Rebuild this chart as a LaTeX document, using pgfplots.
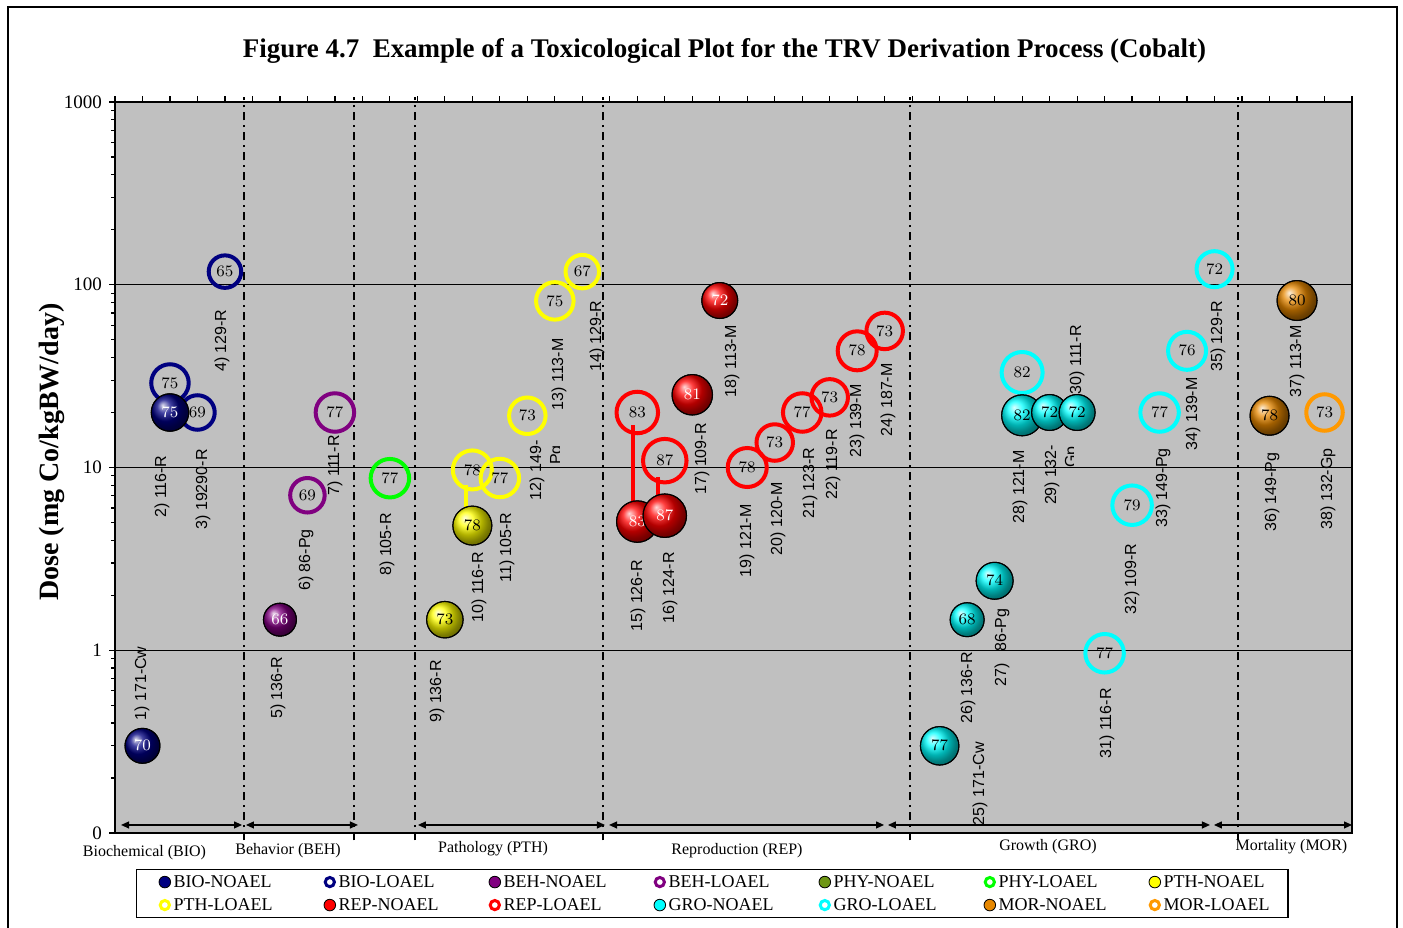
\documentclass[border=0pt]{standalone}
\usepackage{fontspec}
\setmainfont{Liberation Serif}
\newfontfamily\arial{Liberation Sans}
\usepackage{graphicx}
\usepackage{pgfplots}
\usepackage{pgfplotstable}
\pgfplotsset{compat=1.18}
\usetikzlibrary{arrows.meta}

\definecolor{cnavy}{RGB}{0,0,128}
\definecolor{cpurple}{RGB}{128,0,128}
\definecolor{colive}{RGB}{110,150,20}
\definecolor{cgreen}{RGB}{0,255,0}
\definecolor{cyellow}{RGB}{255,255,0}
\definecolor{cred}{RGB}{255,0,0}
\definecolor{ccyan}{RGB}{0,255,255}
\definecolor{corangeN}{RGB}{230,135,0}
\definecolor{corangeL}{RGB}{255,153,0}
\definecolor{plotgray}{RGB}{192,192,192}

\newcommand\numfont{\fontsize{7.8}{8}\selectfont}

\pgfplotstableread{
x y s
1 0.30 70
2 20 75
}\bioN
\pgfplotstableread{
x y s
2 29 75
3 20 69
4 118 65
}\bioL
\pgfplotstableread{
x y s
6 1.47 66
}\behN
\pgfplotstableread{
x y s
7 7.05 69
8 20 77
}\behL
\pgfplotstableread{
x y s
10 8.74 77
}\phyL
\pgfplotstableread{
x y s
12 1.47 73
13 4.81 78
}\pthN
\pgfplotstableread{
x y s
13 9.7 78
14 8.76 77
15 19.2 73
16 81.6 75
17 118 67
}\pthL
\pgfplotstableread{
x y s
19 5.06 83
20 5.45 87
21 25 81
22 82 72
}\repN
\pgfplotstableread{
x y s
19 20 83
20 10.9 87
23 10 78
24 13.7 73
25 20 77
26 24.2 73
27 43.5 78
28 55.9 73
}\repL
\pgfplotstableread{
x y s
30 0.30 77
31 1.47 68
32 2.40 74
33 19.3 82
34 20 72
35 20 72
}\groN
\pgfplotstableread{
x y s
33 33.1 82
36 0.963 77
37 6.22 79
38 20 77
39 43.5 76
40 121.7 72
}\groL
\pgfplotstableread{
x y s
42 19.2 78
43 82 80
}\morN
\pgfplotstableread{
x y s
44 20 73
}\morL

\tikzset{
  lbl/.style={rotate=90, anchor=east, inner sep=0pt, font=\arial\fontsize{8}{9.6}\selectfont},
  vline/.style={black, line width=0.9pt, dash pattern=on 4pt off 2.5pt on 1pt off 2.5pt},
  catarrow/.style={black, line width=0.6pt, >={Triangle[length=4pt,width=3.5pt]}, <->},
  catlab/.style={font=\fontsize{8}{9.6}\selectfont, inner sep=0pt},
}

\pgfplotsset{
  noael/.style 2 args={only marks, scatter, mark=o,
    mark options={draw=black, line width=0.5pt, fill=none},
    visualization depends on={\thisrow{s} \as \scoreval},
    scatter/@pre marker code/.code={%
      \pgfmathsetmacro\markrad{\scoreval/8}%
      \shade[ball color=#1] (0pt,0pt) circle[radius=\markrad pt];%
      \scope[mark size=\markrad pt]},
    scatter/@post marker code/.code={%
      \endscope
      \node[inner sep=0pt, draw=none, text=#2, font=\numfont] at (0pt,0pt) {\pgfmathprintnumber[fixed,precision=0]{\scoreval}};},
  },
  loael/.style={only marks, scatter, mark=o,
    mark options={draw=#1, line width=2pt, fill=none},
    visualization depends on={\thisrow{s} \as \scoreval},
    scatter/@pre marker code/.code={%
      \pgfmathsetmacro\markrad{\scoreval/8}%
      \scope[mark size=\markrad pt]},
    scatter/@post marker code/.code={%
      \endscope
      \node[inner sep=0pt, draw=none, text=black, font=\numfont] at (0pt,0pt) {\pgfmathprintnumber[fixed,precision=0]{\scoreval}};},
  },
  legN/.style={legend image code/.code={\draw[fill=#1, draw=black, line width=0.4pt] (3pt,0pt) circle[radius=2.9pt];}},
  legL/.style={legend image code/.code={\draw[fill=white, draw=#1, line width=1.5pt] (3pt,0pt) circle[radius=2.3pt];}},
}

\begin{document}
\begin{tikzpicture}
\begin{axis}[
  at={(57.5pt,-416.5pt)}, anchor=south west,
  scale only axis, width=618.5pt, height=365.5pt,
  xmin=0, xmax=45, ymin=0.1, ymax=1000, ymode=log,
  clip=false,
  axis background/.style={fill=plotgray},
  axis line style={line width=0.9pt},
  xtick={0,1,...,45}, xticklabels={}, xtick pos=right,
  ytick={0.1,1,10,100,1000},
  yticklabels={\textrm{0},\textrm{1},\textrm{10},\textrm{100},\textrm{1000}},
  minor ytick={0.2,0.3,0.4,0.5,0.6,0.7,0.8,0.9,2,3,4,5,6,7,8,9,20,30,40,50,60,70,80,90,200,300,400,500,600,700,800,900},
  ytick pos=left,
  tick align=outside,
  major tick length=3pt, minor tick length=2pt,
  tick style={black, line width=0.6pt},
  ymajorgrids, major grid style={black, line width=0.7pt},
  yticklabel style={font=\fontsize{9.5}{10}\selectfont},
  legend columns=7,
  legend cell align=left,
  legend style={at={(0.017,-0.0492)}, anchor=north west, draw=black, line width=0.6pt,
    font=\fontsize{9}{10}\selectfont, inner xsep=11pt, inner ysep=0.5pt,
    nodes={inner sep=1.25pt, text height=7pt, text depth=2pt},
    /tikz/every even column/.append style={column sep=23.8pt}},
  legend entries={\makebox[50pt][l]{BIO-NOAEL},\makebox[50pt][l]{BIO-LOAEL},\makebox[50pt][l]{BEH-NOAEL},\makebox[50pt][l]{BEH-LOAEL},\makebox[50pt][l]{PHY-NOAEL},\makebox[50pt][l]{PHY-LOAEL},\makebox[50pt][l]{PTH-NOAEL},\makebox[50pt][l]{PTH-LOAEL},\makebox[50pt][l]{REP-NOAEL},\makebox[50pt][l]{REP-LOAEL},\makebox[50pt][l]{GRO-NOAEL},\makebox[50pt][l]{GRO-LOAEL},\makebox[50pt][l]{MOR-NOAEL},\makebox[50pt][l]{MOR-LOAEL}},
]
\addlegendimage{legN=cnavy}
\addlegendimage{legL=cnavy}
\addlegendimage{legN=cpurple}
\addlegendimage{legL=cpurple}
\addlegendimage{legN=colive}
\addlegendimage{legL=cgreen}
\addlegendimage{legN=cyellow}
\addlegendimage{legL=cyellow}
\addlegendimage{legN=cred}
\addlegendimage{legL=cred}
\addlegendimage{legN=ccyan}
\addlegendimage{legL=ccyan}
\addlegendimage{legN=corangeN}
\addlegendimage{legL=corangeL}

% category separators
\draw[vline] (rel axis cs:0.1043,-0.01) -- (rel axis cs:0.1043,1.007);
\draw[vline] (rel axis cs:0.1932,-0.01) -- (rel axis cs:0.1932,1.007);
\draw[vline] (rel axis cs:0.2425,-0.01) -- (rel axis cs:0.2425,1.007);
\draw[vline] (rel axis cs:0.3948,-0.01) -- (rel axis cs:0.3948,1.007);
\draw[vline] (rel axis cs:0.6427,-0.01) -- (rel axis cs:0.6427,1.007);
\draw[vline] (rel axis cs:0.9076,-0.01) -- (rel axis cs:0.9076,1.007);

% category arrows
\draw[catarrow] (rel axis cs:0.0049,0.011) -- (rel axis cs:0.1027,0.011);
\draw[catarrow] (rel axis cs:0.1059,0.011) -- (rel axis cs:0.1964,0.011);
\draw[catarrow] (rel axis cs:0.2449,0.011) -- (rel axis cs:0.3961,0.011);
\draw[catarrow] (rel axis cs:0.3994,0.011) -- (rel axis cs:0.6217,0.011);
\draw[catarrow] (rel axis cs:0.6249,0.011) -- (rel axis cs:0.8852,0.011);
\draw[catarrow] (rel axis cs:0.8884,0.011) -- (rel axis cs:1.0,0.011);

% study labels
\node[lbl] at (rel axis cs:0.0218,0.2558) {1) 171-Cw};
\node[lbl] at (rel axis cs:0.0380,0.5157) {2) 116-R};
\node[lbl] at (rel axis cs:0.0711,0.5253) {3) 19290-R};
\node[lbl] at (rel axis cs:0.0865,0.7168) {4) 129-R};
\node[lbl] at (rel axis cs:0.1318,0.2421) {5) 136-R};
\node[lbl] at (rel axis cs:0.1544,0.4159) {6) 86-Pg};
\node[lbl] at (rel axis cs:0.1779,0.5445) {7) 111-R};
\node[lbl] at (rel axis cs:0.2199,0.4378) {8) 105-R};
\node[lbl] at (rel axis cs:0.2603,0.2367) {9) 136-R};
\node[lbl] at (rel axis cs:0.2943,0.3844) {10) 116-R};
\node[lbl] at (rel axis cs:0.3169,0.4391) {11) 105-R};
\node[lbl] at (rel axis cs:0.3411,0.5376) {12) 149-};
\node[lbl] at (rel axis cs:0.3589,0.6771) {13) 113-M};
\node[lbl] at (rel axis cs:0.3897,0.7291) {14) 129-R};
\node[lbl] at (rel axis cs:0.4228,0.3735) {15) 126-R};
\node[lbl] at (rel axis cs:0.4487,0.3844) {16) 124-R};
\node[lbl] at (rel axis cs:0.4745,0.5609) {17) 109-R};
\node[lbl] at (rel axis cs:0.4988,0.6949) {18) 113-M};
\node[lbl] at (rel axis cs:0.5109,0.4501) {19) 121-M};
\node[lbl] at (rel axis cs:0.5360,0.4802) {20) 120-M};
\node[lbl] at (rel axis cs:0.5618,0.5280) {21) 123-R};
\node[lbl] at (rel axis cs:0.5804,0.5527) {22) 119-R};
\node[lbl] at (rel axis cs:0.5998,0.6142) {23) 139-M};
\node[lbl] at (rel axis cs:0.6249,0.6430) {24) 187-M};
\node[lbl] at (rel axis cs:0.6993,0.1245) {25) 171-Cw};
\node[lbl] at (rel axis cs:0.6896,0.2476) {26) 136-R};
\node[lbl] at (rel axis cs:0.7171,0.3078) {27)\hspace{6pt}86-Pg};
\node[lbl] at (rel axis cs:0.7316,0.5239) {28) 121-M};
\node[lbl] at (rel axis cs:0.7575,0.5308) {29) 132-};
\node[lbl] at (rel axis cs:0.7777,0.6949) {30) 111-R};
\node[lbl] at (rel axis cs:0.8019,0.1984) {31) 116-R};
\node[lbl] at (rel axis cs:0.8222,0.3967) {32) 109-R};
\node[lbl] at (rel axis cs:0.8472,0.5267) {33) 149-Pg};
\node[lbl] at (rel axis cs:0.8715,0.6238) {34) 139-M};
\node[lbl] at (rel axis cs:0.8917,0.7291) {35) 129-R};
\node[lbl] at (rel axis cs:0.9353,0.5212) {36) 149-Pg};
\node[lbl] at (rel axis cs:0.9555,0.6949) {37) 113-M};
\node[lbl] at (rel axis cs:0.9806,0.5267) {38) 132-Gp};

% LOAEL rings
\addplot[loael=cnavy, forget plot] table[x=x,y=y] {\bioL};
\addplot[loael=cpurple, forget plot] table[x=x,y=y] {\behL};
\addplot[loael=cgreen, forget plot] table[x=x,y=y] {\phyL};
\addplot[loael=cyellow, forget plot] table[x=x,y=y] {\pthL};
\addplot[loael=cred, forget plot] table[x=x,y=y] {\repL};
\addplot[loael=ccyan, forget plot] table[x=x,y=y] {\groL};
\addplot[loael=corangeL, forget plot] table[x=x,y=y] {\morL};

% NOAEL-LOAEL connectors
\addplot[draw=cyellow, line width=2pt, forget plot] coordinates {(12.76,4.81) (12.76,8.04)};
\addplot[draw=cred, line width=2pt, forget plot] coordinates {(18.86,5.06) (18.86,17.1)};
\addplot[draw=cred, line width=2pt, forget plot] coordinates {(19.74,5.45) (19.74,8.88)};

% NOAEL balls
\addplot[noael={cnavy}{white}, forget plot] table[x=x,y=y] {\bioN};
\addplot[noael={cpurple}{white}, forget plot] table[x=x,y=y] {\behN};
\addplot[noael={cyellow}{black}, forget plot] table[x=x,y=y] {\pthN};
\addplot[noael={cred}{white}, forget plot] table[x=x,y=y] {\repN};
\addplot[noael={ccyan}{black}, forget plot] table[x=x,y=y] {\groN};
\addplot[noael={corangeN}{black}, forget plot] table[x=x,y=y] {\morN};
\end{axis}

\begin{scope}[x=0.5pt, y=-0.5pt]
  \draw[line width=0.8pt] (8,7) rectangle (1397,945);
  \node[anchor=base, inner sep=0pt] at (724.5,57) {\resizebox{481.5pt}{!}{\fontsize{13.4}{16}\selectfont\bfseries Figure 4.7\ \ Example of a Toxicological Plot for the TRV Derivation Process (Cobalt)}};
  \node[rotate=90, inner sep=0pt, font=\bfseries\fontsize{14}{16}\selectfont] at (52,452) {Dose (mg Co/kgBW/day)};
  \node[catlab] at (144.5,853) {Biochemical (BIO)};
  \node[catlab] at (288,851) {Behavior (BEH)};
  \node[catlab] at (493,849) {Pathology (PTH)};
  \node[catlab] at (737,851) {Reproduction (REP)};
  \node[catlab] at (1048,847) {Growth (GRO)};
  \node[catlab] at (1291.5,847) {Mortality (MOR)};
  \begin{scope}
    \clip (540,430) rectangle (559.5,490);
    \node[lbl, anchor=base east] at (561,445) {Pg};
  \end{scope}
  \begin{scope}
    \clip (1060,430) rectangle (1073.5,490);
    \node[lbl, anchor=base east] at (1076,446) {Gp};
  \end{scope}
\end{scope}

\pgfresetboundingbox
\useasboundingbox (0pt,0pt) rectangle (701.5pt,-463.5pt);
\end{tikzpicture}
\end{document}
